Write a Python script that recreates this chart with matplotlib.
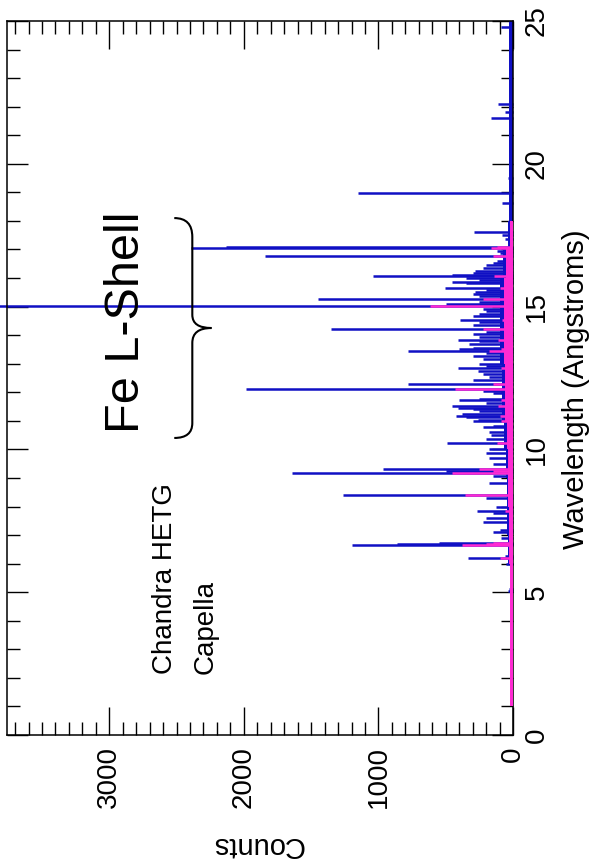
import matplotlib
matplotlib.use("Agg")
import matplotlib.pyplot as plt
import matplotlib.transforms as mtransforms
from matplotlib.path import Path
from matplotlib.patches import PathPatch
from matplotlib.ticker import MultipleLocator

plt.rcParams['font.family'] = ['Liberation Sans', 'DejaVu Sans']

# MEG spectrum (blue): line wavelength (Angstrom) and peak counts
meg_lam = [5.04, 5.10, 6.00, 6.18, 6.27, 6.65, 6.69, 6.74, 6.90, 7.11, 7.17, 7.47,
           7.60, 7.76, 7.85, 7.99, 8.30, 8.42, 8.81, 9.07, 9.17, 9.23, 9.31, 9.48,
           9.71, 9.87, 10.02, 10.24, 10.37, 10.51, 10.62, 10.77, 10.82, 10.98, 11.02,
           11.13, 11.17, 11.25, 11.33, 11.42, 11.45, 11.53, 11.64, 11.73, 11.77, 11.97,
           12.04, 12.13, 12.28, 12.43, 12.52, 12.65, 12.75, 12.84, 12.92, 13.00, 13.15,
           13.27, 13.37, 13.45, 13.52, 13.55, 13.70, 13.80, 13.83, 13.95, 14.04, 14.11,
           14.21, 14.37, 14.47, 14.53, 14.67, 14.74, 14.83, 14.92, 15.01, 15.08, 15.17,
           15.26, 15.37, 15.45, 15.51, 15.58, 15.64, 15.83, 15.87, 15.93, 16.00, 16.07,
           16.11, 16.17, 16.23, 16.34, 16.45, 16.53, 16.60, 16.78, 16.88, 16.96, 17.05,
           17.10, 17.35, 17.50, 17.62, 18.63, 18.97, 19.50, 21.60, 21.80, 22.10, 24.78]
meg_cnt = [40, 30, 50, 335, 60, 1200, 860, 550, 90, 150, 100, 220,
           200, 150, 270, 130, 200, 1266, 180, 150, 1640, 500, 966, 150,
           180, 200, 180, 494, 200, 160, 180, 220, 150, 300, 260,
           350, 420, 380, 250, 300, 410, 450, 200, 400, 250, 150,
           220, 1983, 780, 300, 180, 220, 260, 410, 200, 250, 220,
           300, 200, 780, 400, 300, 330, 250, 410, 250, 300, 200,
           1350, 300, 250, 395, 300, 250, 200, 220, 4500, 500, 250,
           1450, 250, 300, 280, 200, 505, 350, 450, 250, 350, 1040,
           450, 300, 280, 220, 200, 150, 120, 1846, 100, 120, 2393,
           2130, 60, 80, 290, 80, 1150, 40, 160, 60, 110, 90]

# HEG spectrum (magenta)
heg_lam = [6.18, 6.65, 6.69, 6.74, 7.85, 8.42, 9.17, 9.23, 9.31, 10.24, 10.98, 11.17,
           11.53, 11.73, 12.13, 12.28, 12.84, 13.45, 13.52, 13.83, 14.21, 14.53, 15.01,
           15.26, 15.64, 16.07, 16.78, 17.05, 17.10]
heg_cnt = [100, 380, 200, 150, 60, 357, 450, 150, 250, 120, 90, 100,
           110, 90, 430, 150, 90, 180, 90, 110, 220, 80, 620,
           220, 100, 140, 150, 160, 120]

# continuum level per 1 A bin
meg_edges = list(range(1, 26))
meg_cont = [12, 12, 12, 15, 20, 40, 45, 45, 50, 70, 85, 85, 95, 95, 95, 75, 40, 30,
            30, 28, 28, 28, 28, 30]
heg_edges = list(range(1, 19))
heg_cont = [20, 20, 20, 20, 22, 30, 30, 35, 35, 45, 60, 60, 65, 65, 65, 55, 25]

blue = '#1010c4'
pink = '#ff2ad2'

fig = plt.figure(figsize=(5.95, 8.67), dpi=100)
ax = fig.add_axes([7 / 595, 1 - 735 / 867, 506 / 595, 714 / 867])

ax.fill_betweenx(meg_edges, 0, meg_cont + meg_cont[-1:], step='post', color=blue, lw=0, zorder=2)
ax.hlines(meg_lam, 0, meg_cnt, color=blue, lw=1.8, zorder=2, clip_on=False)
ax.fill_betweenx(heg_edges, 0, heg_cont + heg_cont[-1:], step='post', color=pink, lw=0, zorder=3)
ax.hlines(heg_lam, 0, heg_cnt, color=pink, lw=1.8, zorder=3)

ax.set_xlim(3760, 0)
ax.set_ylim(0, 25)

ax.xaxis.set_major_locator(MultipleLocator(1000))
ax.xaxis.set_minor_locator(MultipleLocator(100))
ax.yaxis.set_major_locator(MultipleLocator(5))
ax.yaxis.set_minor_locator(MultipleLocator(1))
ax.tick_params(axis='both', which='both', direction='in', top=True, bottom=True,
               left=True, right=True, labelleft=False, labelright=True, labelsize=20,
               width=1)
ax.tick_params(axis='x', which='major', length=20, pad=8, labelrotation=90)
ax.tick_params(axis='x', which='minor', length=9.5)
ax.tick_params(axis='y', which='major', length=15, pad=8, labelrotation=90)
ax.tick_params(axis='y', which='minor', length=9)
plt.setp(ax.get_yticklabels(), va='center')
for s in ax.spines.values():
    s.set_linewidth(1.1)

# the "0" count label sits a little left of its tick in the original
t0 = ax.xaxis.get_major_ticks()[0]
t0.label1.set_transform(t0.label1.get_transform()
                        + mtransforms.ScaledTranslation(-0.10, 0, fig.dpi_scale_trans))

ax.text(1.140, 0.4846, 'Wavelength (Angstroms)', transform=ax.transAxes, rotation=90,
        rotation_mode='anchor', ha='center', va='baseline', fontsize=21)
ax.text(0.494, -0.143, 'Counts', transform=ax.transAxes, rotation=180,
        rotation_mode='anchor', ha='center', va='baseline', fontsize=21)

ax.text(2532, 2.15, 'Chandra HETG', rotation=90, rotation_mode='anchor',
        ha='left', va='baseline', fontsize=20)
ax.text(2234, 2.15, 'Capella', rotation=90, rotation_mode='anchor',
        ha='left', va='baseline', fontsize=20)
ax.text(2777, 14.44, 'Fe L-Shell', rotation=90, rotation_mode='anchor',
        ha='center', va='baseline', fontsize=35)

# curly brace over the Fe L band
verts = [(2517, 18.10), (2383, 18.10), (2383, 17.44), (2383, 14.71),
         (2383, 14.25), (2241, 14.25), (2383, 14.25), (2383, 13.73),
         (2383, 10.92), (2383, 10.40), (2517, 10.40)]
codes = [Path.MOVETO, Path.CURVE3, Path.CURVE3, Path.LINETO,
         Path.CURVE3, Path.CURVE3, Path.CURVE3, Path.CURVE3,
         Path.LINETO, Path.CURVE3, Path.CURVE3]
ax.add_patch(PathPatch(Path(verts, codes), fill=False, lw=1.5, color='black', zorder=4))

fig.savefig('out.png', dpi=100)
